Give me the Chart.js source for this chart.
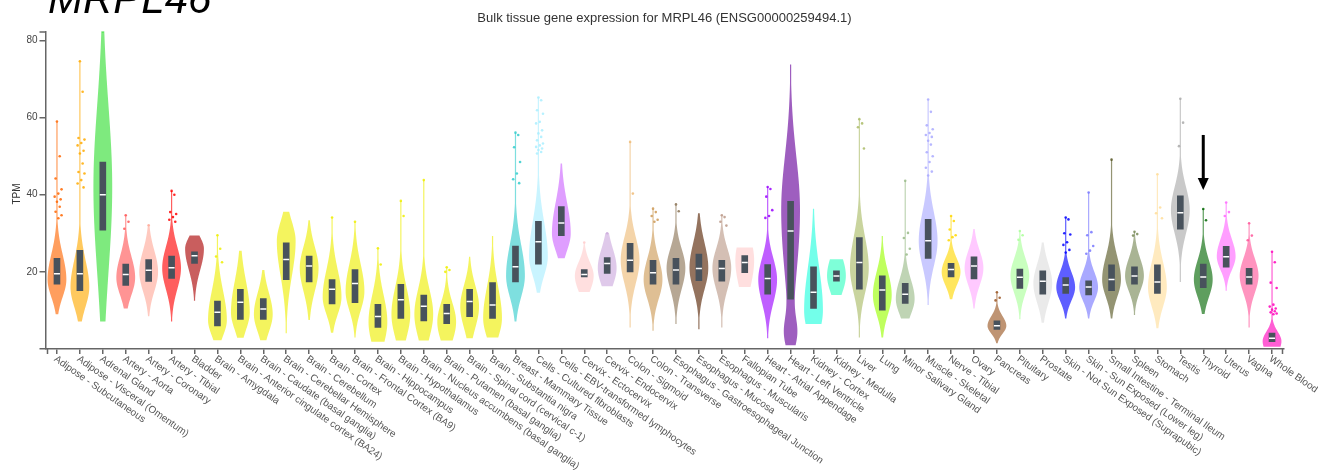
<!DOCTYPE html>
<html>
<head>
<meta charset="utf-8">
<script src="https://cdn.jsdelivr.net/npm/chart.js@4.4.1/dist/chart.umd.min.js"></script>
<style>
  html, body { margin: 0; padding: 0; background: #fff; }
  canvas { display: block; }
</style>
</head>
<body>
<canvas id="violin" width="1318" height="471"></canvas>
<script>
// ---- data (TPM) ----
const tissues = [
  'Adipose - Subcutaneous', 'Adipose - Visceral (Omentum)', 'Adrenal Gland', 'Artery - Aorta',
  'Artery - Coronary', 'Artery - Tibial', 'Bladder', 'Brain - Amygdala',
  'Brain - Anterior cingulate cortex (BA24)', 'Brain - Caudate (basal ganglia)',
  'Brain - Cerebellar Hemisphere', 'Brain - Cerebellum', 'Brain - Cortex',
  'Brain - Frontal Cortex (BA9)', 'Brain - Hippocampus', 'Brain - Hypothalamus',
  'Brain - Nucleus accumbens (basal ganglia)', 'Brain - Putamen (basal ganglia)',
  'Brain - Spinal cord (cervical c-1)', 'Brain - Substantia nigra', 'Breast - Mammary Tissue',
  'Cells - Cultured fibroblasts', 'Cells - EBV-transformed lymphocytes', 'Cervix - Ectocervix',
  'Cervix - Endocervix', 'Colon - Sigmoid', 'Colon - Transverse',
  'Esophagus - Gastroesophageal Junction', 'Esophagus - Mucosa', 'Esophagus - Muscularis',
  'Fallopian Tube', 'Heart - Atrial Appendage', 'Heart - Left Ventricle', 'Kidney - Cortex',
  'Kidney - Medulla', 'Liver', 'Lung', 'Minor Salivary Gland', 'Muscle - Skeletal',
  'Nerve - Tibial', 'Ovary', 'Pancreas', 'Pituitary', 'Prostate',
  'Skin - Not Sun Exposed (Suprapubic)', 'Skin - Sun Exposed (Lower leg)',
  'Small Intestine - Terminal Ileum', 'Spleen', 'Stomach', 'Testis', 'Thyroid', 'Uterus',
  'Vagina', 'Whole Blood'
];

const colors = [
  '#FF6600', '#FFAA00', '#33DD33', '#FF5555', '#FFAA99', '#FF0000', '#AA0000',
  '#EEEE00', '#EEEE00', '#EEEE00', '#EEEE00', '#EEEE00', '#EEEE00', '#EEEE00',
  '#EEEE00', '#EEEE00', '#EEEE00', '#EEEE00', '#EEEE00', '#EEEE00',
  '#33CCCC', '#AAEEFF', '#CC66FF', '#FFCCCC', '#CCAADD', '#EEBB77', '#CC9955',
  '#8B7355', '#552200', '#BB9988', '#FFCCCC', '#9900FF', '#660099', '#22FFDD',
  '#33FFC2', '#AABB66', '#99FF00', '#99BB88', '#AAAAFF', '#FFD700', '#FFAAFF',
  '#995522', '#AAFF99', '#DDDDDD', '#0000FF', '#7777FF', '#555522', '#778855',
  '#FFDD99', '#AAAAAA', '#006600', '#FF66FF', '#FF5599', '#FF00BB'
];

// box: quartiles and median
const q1  = [16.8,15.1,30.8,16.5,17.5,18.3,22.2, 6.0, 7.7, 7.7,18.0,17.4,11.7,12.0, 5.6, 7.9, 7.3, 6.6, 8.4, 7.9,17.4,22.0,29.4,18.7,19.6,20.0,16.8,16.8,17.7,17.6,19.8,14.2,12.9,10.5,17.6,15.5,10.1,11.8,23.5,18.7,18.2, 5.1,15.7,14.2,14.4,14.0,15.1,16.8,14.4,31.1,15.9,21.2,16.8, 1.9];
const med = [19.5,19.5,40.0,19.3,20.4,21.1,24.2, 9.5,12.1,10.4,23.2,21.5,15.5,17.0, 8.4,12.8,11.1, 9.2,12.3,11.4,21.3,27.8,32.7,19.3,22.2,23.0,19.8,20.5,20.9,20.9,22.4,18.3,30.6,14.7,18.9,22.4,15.3,14.2,28.1,20.6,21.5, 6.0,18.6,17.6,16.6,16.1,18.0,18.9,17.4,35.3,18.7,23.9,18.7, 2.8];
const q3  = [23.5,25.6,48.5,22.0,23.2,24.1,25.2,12.4,15.5,13.1,27.5,24.1,18.0,20.6,11.6,16.8,14.0,11.6,15.5,17.2,26.7,33.1,36.9,20.6,23.7,27.4,23.0,23.5,24.6,23.0,24.2,21.9,38.3,21.3,20.3,28.9,19.0,17.0,33.6,22.2,23.9, 7.3,20.7,20.3,18.5,17.7,21.8,21.3,21.8,39.7,22.0,26.6,20.9, 4.1];

// violin extent (lowest / highest sample)
const lo  = [ 9.0, 7.1, 7.1,10.5, 8.5, 7.1,12.5, 2.3, 2.9, 2.3, 4.1, 7.5, 4.2, 3.0, 1.9, 2.2, 2.2, 2.2, 2.8, 3.0, 7.1,14.6,23.5,14.8,16.3, 5.6, 4.7, 6.5, 5.1, 5.6,16.1, 2.8, 1.0, 6.5,14.0, 3.0, 3.0, 7.9,11.4,12.9,10.5, 1.5, 7.7, 6.8, 7.9, 7.9, 7.9, 8.8, 5.4,17.4, 9.1,15.1, 5.6, 0.6];
const hi  = [58.9,74.6,82.4,34.7,32.1,41.0,29.4,29.5,25.5,20.5,35.6,33.4,34.1,33.0,26.1,38.4,43.8,21.2,23.9,29.3,56.1,65.2,48.1,27.6,30.0,53.7,36.4,37.5,35.2,34.7,26.3,42.0,73.8,36.4,23.3,59.6,29.3,43.6,64.7,34.5,31.1,14.7,30.6,27.6,34.1,40.6,49.1,30.4,45.3,64.9,36.3,38.0,32.6,25.2];

// density shape: mode and spread below / above it
const peak = [18,16,42,18.5,20,21,26, 7.5, 9.5, 9,28,21,13.5,15, 7, 9, 9, 7,11, 8,19,24,30,19,21,23,18,21,21,21,23,18,36,10,19,21,14,13,28,20,21, 6,19,17,16,16,18,19,16,36,18,24,19, 2];
const sLo  = [4.5, 5,22,4.5, 5,5.5,5.5, 4,4.5,4.5, 9, 6,4.5, 5, 6, 6, 6, 5,5.5, 5,5.5, 5,4.5, 4,4.5, 6, 5,5.5,5.5,5.5, 7, 6,17, 6,4.5,6.5, 5, 4,6.5,3.5,4.5, 2,4.5, 5,3.5,3.5,4.5, 4, 5, 6,4.5,3.5,4.5, 3];
const sHi  = [6.5, 7,21,5.5,5.5,5.5, 3,7.5, 8,5.5, 5,5.5, 7, 7, 7, 7,6.5, 5,5.5, 8, 8, 9, 8,3.5, 5, 6,5.5, 5,6.5, 5, 6,5.5,14,11, 5, 8, 6, 5,7.5,3.5,4.5,2.5,4.5, 5, 4, 4, 6,4.5,6.5, 6, 5,4.5,4.5,2.5];
const extraModes = { 'Heart - Left Ventricle': [4, 4, 0.55] }; // [mode, spread, weight]

const outliers = [
  [59,50,44.2,41.4,40.3,39.5,38.8,38.2,36.9,35.6,34.7,33.9],
  [74.6,66.7,54.7,54.3,53.4,52.8,51.4,50.7,48.1,45.9,45.5,43.8,42.9,41.9],
  [82.4],
  [34.7,33.0,31.2],
  [32.1],
  [41.0,40.0,35.5,35.0,34.2,33.5,33.0],
  [],
  [29.5,26.0,24.0,22.5],
  [], [], [], [],
  [34.1],
  [33.0],
  [26.1,21.9],
  [38.4,34.5],
  [43.8],
  [21.2,20.5,20.0],
  [], [],
  [56.1,55.5,52.3,48.5,45.5,44.0,43.0],
  [65.2,64.5,61.9,61.0,58.9,58.5,56.7,55.9,55.0,54.1,53.3,52.8,52.4,52.0,51.6,51.1,50.7],
  [],
  [27.6],
  [30.0],
  [53.7,40.3],
  [36.4,35.5,34.5,33.5,33.0],
  [37.5,35.7],
  [],
  [34.7,34.2,33.0,32.0],
  [],
  [42.0,41.5,39.5,36.0,34.5,34.0],
  [], [], [],
  [59.6,58.5,57.5,52.0],
  [],
  [43.6,30.1,28.8,26.0,24.5],
  [64.7,61.5,58.0,57.0,56.0,55.5,55.0,54.0,53.0,51.0,50.0,48.5,47.0,46.0,45.0],
  [34.5,33.2,31.0,29.5,29.0,28.2],
  [],
  [14.7,13.3,12.6],
  [30.6,29.5,28.3],
  [],
  [34.1,33.6,30.0,29.7,27.7,27.0,25.7,25.0],
  [40.6,30.3,29.5,26.7,25.5,24.7],
  [49.1],
  [30.4,29.8,29.4],
  [45.3,36.7,35.2,33.9],
  [64.9,58.7,52.6],
  [36.3,33.4],
  [38.0,35.5,34.5],
  [32.6,29.4,28.2],
  [25.2,22.5,17.2,15.8,11.5,11.0,10.5,10.2,9.8,9.5,9.2,9.0]
];

const yTicks = [0, 20, 40, 60, 80];
const yMax = 82.2;
const arrowTissue = 'Thyroid';
const arrowFrom = 55.5, arrowTo = 41.2;

const geneLabel = 'MRPL46';
const chartTitle = 'Bulk tissue gene expression for MRPL46 (ENSG00000259494.1)';

// ---- helpers ----
const FONT = '"Liberation Sans", Arial, sans-serif';
function rgba(hex, a) {
  const n = parseInt(hex.slice(1), 16);
  return `rgba(${n >> 16},${(n >> 8) & 255},${n & 255},${a})`;
}
const jitter = [0, 0.12, -0.06, 0.2, 0.06, -0.1, 0.16];

const outlierPts = [], outlierCols = [];
outliers.forEach((list, i) => list.forEach((v, k) => {
  outlierPts.push({ x: i + jitter[k % jitter.length], y: v });
  outlierCols.push(rgba(colors[i], 0.85));
}));

// ---- violins + annotation plugin ----
const violinPlugin = {
  id: 'violins',
  beforeDatasetsDraw(chart) {
    const { ctx, scales: { x, y } } = chart;
    const maxHalf = (x.width / tissues.length) * 0.41;
    ctx.save();
    tissues.forEach((t, i) => {
      const cx = x.getPixelForValue(i);
      const n = 120, vals = [], dens = [];
      for (let k = 0; k <= n; k++) {
        const v = lo[i] + (hi[i] - lo[i]) * k / n;
        const s = v < peak[i] ? sLo[i] : sHi[i];
        let d = Math.exp(-0.5 * ((v - peak[i]) / s) ** 2);
        const m = extraModes[t];
        if (m) d += m[2] * Math.exp(-0.5 * ((v - m[0]) / m[1]) ** 2);
        vals.push(v); dens.push(d);
      }
      const dmax = Math.max(...dens);
      const half = dens.map(d => Math.max(0.6, maxHalf * d / dmax));
      ctx.beginPath();
      vals.forEach((v, k) => {
        const py = y.getPixelForValue(v);
        k ? ctx.lineTo(cx - half[k], py) : ctx.moveTo(cx - half[k], py);
      });
      for (let k = n; k >= 0; k--) ctx.lineTo(cx + half[k], y.getPixelForValue(vals[k]));
      ctx.closePath();
      ctx.fillStyle = rgba(colors[i], 0.63);
      ctx.fill();
    });
    ctx.restore();
  },
  afterDraw(chart) {
    const { ctx, scales: { x, y } } = chart;
    ctx.save();
    // outer ticks of the axes
    ctx.strokeStyle = '#666'; ctx.lineWidth = 1.5;
    ctx.beginPath();
    ctx.moveTo(x.left + 2, x.top); ctx.lineTo(x.left + 2, x.top + 5);
    ctx.moveTo(x.right - 1, x.top); ctx.lineTo(x.right - 1, x.top + 5);
    ctx.moveTo(y.right, y.top); ctx.lineTo(y.right - 6, y.top);
    ctx.stroke();

    // rotated category labels
    ctx.fillStyle = '#555';
    ctx.font = '10px ' + FONT;
    ctx.textAlign = 'left';
    ctx.textBaseline = 'top';
    tissues.forEach((t, i) => {
      ctx.save();
      ctx.translate(x.getPixelForValue(i) + 1, x.top + 5);
      ctx.rotate(35 * Math.PI / 180);
      ctx.fillText(t, 0, 0);
      ctx.restore();
    });

    // y title
    ctx.save();
    ctx.translate(17, 194);
    ctx.rotate(-Math.PI / 2);
    ctx.textAlign = 'center';
    ctx.textBaseline = 'middle';
    ctx.fillStyle = '#333';
    ctx.font = '10px ' + FONT;
    ctx.fillText('TPM', 0, 0);
    ctx.restore();

    // chart title
    ctx.fillStyle = '#333';
    ctx.font = '13px ' + FONT;
    ctx.textAlign = 'center';
    ctx.textBaseline = 'middle';
    ctx.fillText(chartTitle, (x.left + x.right) / 2, 18);

    // gene name
    ctx.fillStyle = '#000';
    ctx.font = 'italic 42px ' + FONT;
    ctx.textAlign = 'left';
    ctx.textBaseline = 'alphabetic';
    ctx.fillText(geneLabel, 48, 13);

    // arrow pointing at thyroid
    const ax = x.getPixelForValue(tissues.indexOf(arrowTissue));
    const yTop = y.getPixelForValue(arrowFrom), yTip = y.getPixelForValue(arrowTo);
    ctx.strokeStyle = '#000'; ctx.lineWidth = 3;
    ctx.beginPath(); ctx.moveTo(ax, yTop); ctx.lineTo(ax, yTip - 10); ctx.stroke();
    ctx.fillStyle = '#000';
    ctx.beginPath();
    ctx.moveTo(ax - 5.5, yTip - 12); ctx.lineTo(ax + 5.5, yTip - 12); ctx.lineTo(ax, yTip);
    ctx.closePath(); ctx.fill();
    ctx.restore();
  }
};

// ---- chart ----
// tissues sit at integer positions 0..53 on one linear x axis, so violins,
// boxes, medians and outliers all share the same mapping
new Chart(document.getElementById('violin'), {
  type: 'bar',
  data: {
    datasets: [
      {
        type: 'scatter', label: 'outliers', order: 0,
        data: outlierPts,
        pointRadius: 1.3, pointBorderWidth: 0,
        pointBackgroundColor: outlierCols
      },
      {
        type: 'scatter', label: 'median', order: 1,
        data: med.map((v, i) => ({ x: i, y: v })),
        pointStyle: 'line', pointRadius: 3, pointBorderWidth: 1.5,
        pointBorderColor: '#fff', pointBackgroundColor: '#fff'
      },
      {
        type: 'bar', label: 'IQR', order: 2,
        data: q1.map((v, i) => ({ x: i, y: [v, q3[i]] })),
        backgroundColor: '#48525c', borderWidth: 0,
        barThickness: 6, borderSkipped: false
      }
    ]
  },
  options: {
    responsive: false,
    animation: false,
    devicePixelRatio: 1,
    events: [],
    layout: { padding: { top: 32, right: 34.5, left: 0, bottom: 0 } },
    plugins: { legend: { display: false }, tooltip: { enabled: false } },
    scales: {
      x: {
        type: 'linear',
        offset: false,
        min: -0.5, max: tissues.length - 0.5,
        afterBuildTicks: s => { s.ticks = tissues.map((t, i) => ({ value: i })); },
        grid: { offset: false, drawOnChartArea: false, drawTicks: true, tickLength: 5, color: '#666', lineWidth: 1.5 },
        border: { display: true, color: '#666', width: 1.5 },
        ticks: { display: false },
        afterFit: s => { s.height = 122; }
      },
      y: {
        min: 0, max: yMax,
        afterBuildTicks: s => { s.ticks = yTicks.map(v => ({ value: v })); },
        grid: { drawOnChartArea: false, drawTicks: true, tickLength: 6, color: '#666', lineWidth: 1.5 },
        border: { display: true, color: '#666', width: 1.5 },
        ticks: {
          padding: 2, color: '#444', font: { family: FONT, size: 10 },
          callback: v => (v === 0 ? '' : v)
        },
        afterFit: s => { s.width = 45.5; }
      }
    }
  },
  plugins: [violinPlugin]
});
</script>
</body>
</html>
